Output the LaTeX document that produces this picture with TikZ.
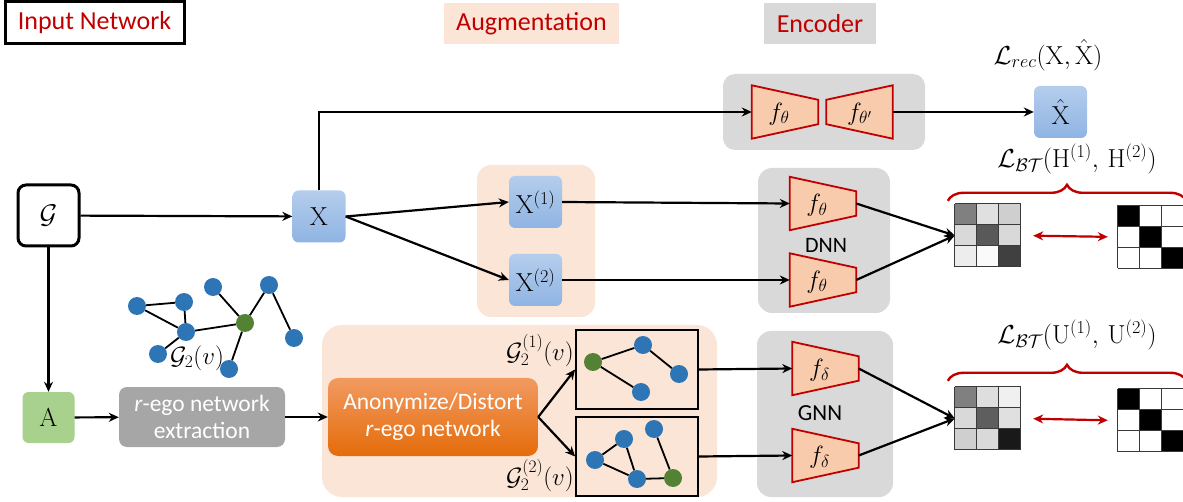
\RequirePackage{fix-cm}
\documentclass[tikz,border=0pt]{standalone}
\usepackage{fontspec}
\newfontfamily\calibri{Carlito}
\usetikzlibrary{arrows.meta,decorations.pathreplacing,calc}
\definecolor{myred}{HTML}{C00000}
\definecolor{peach}{HTML}{FBE5D6}
\definecolor{lgray}{HTML}{D9D9D9}
\definecolor{trapfill}{HTML}{F8CBAD}
\definecolor{nblue}{HTML}{2E75B6}
\definecolor{ngreen}{HTML}{548235}
\definecolor{boxgreen}{HTML}{A9D18E}
\definecolor{bluetop}{HTML}{B4CDEC}
\definecolor{bluebot}{HTML}{8FB4E3}
\definecolor{orgtop}{HTML}{F29A61}
\definecolor{orgbot}{HTML}{E46C0A}
\definecolor{egogray}{HTML}{A6A6A6}
\definecolor{gridc}{HTML}{3A3A3A}
\newcommand{\trapN}[4]{%
  \node[trapbox] (#1) at (#2,#3) {};
  \draw[trapL] (#1.north west) -- ([yshift=-14.5pt]#1.north east) -- ([yshift=14.5pt]#1.south east) -- (#1.south west) -- cycle;
  \node[mathf] (#1t) at ([xshift=-6pt,yshift=-2pt]#1.center) {#4};}
\newcommand{\trapW}[4]{%
  \node[trapbox] (#1) at (#2,#3) {};
  \draw[trapL] ([yshift=-14.5pt]#1.north west) -- (#1.north east) -- (#1.south east) -- ([yshift=14.5pt]#1.south west) -- cycle;
  \node[mathf] (#1t) at ([yshift=-2pt]#1.center) {#4};}
\newcommand{\cellgrid}[2]{%
  \foreach \r/\c/\v in {#2} {\fill[black!\v, shift={(#1.north west)}] (\c*22,\r*21) rectangle ++(22,21);}
  \foreach \k in {0,1,2,3} {
    \draw[gridc, line width=1.3pt, shift={(#1.north west)}] (\k*22,0) -- (\k*22,63);
    \draw[gridc, line width=1.3pt, shift={(#1.north west)}] (0,\k*21) -- (66,\k*21);}}
\begin{document}
\begin{tikzpicture}[x=1pt,y=-1pt,
  arr/.style={-{Stealth[length=10pt,width=9pt]}, line width=2.2pt},
  bluebox/.style={rounded corners=6pt, top color=bluetop, bottom color=bluebot, minimum width=53pt, minimum height=52pt, inner sep=0pt, font=\fontsize{26}{30}\selectfont},
  panel/.style={rounded corners=14pt, inner sep=0pt},
  trapbox/.style={inner sep=0pt, minimum width=66pt, minimum height=53pt},
  trapL/.style={fill=trapfill, draw=myred, line width=1.8pt},
  mathf/.style={font=\fontsize{25}{29}\selectfont, inner sep=0pt},
  lossf/.style={font=\fontsize{26}{30}\selectfont, inner sep=0pt},
  hdr/.style={font=\calibri\fontsize{26}{31}\selectfont, text=myred, inner sep=0pt, minimum height=41pt},
  gnode/.style={circle, minimum size=18pt, inner sep=0pt, fill=nblue},
  gnodeg/.style={circle, minimum size=18pt, inner sep=0pt, fill=ngreen},
  gedge/.style={line width=1.8pt},
  mat/.style={minimum width=66pt, minimum height=63pt, inner sep=0pt},
  dbl/.style={{Stealth[length=10pt,width=9pt]}-{Stealth[length=10pt,width=9pt]}, draw=myred, line width=2.2pt},
  bracestyle/.style={decorate, decoration={brace, amplitude=16pt}, draw=myred, line width=2.4pt},
  sanslab/.style={font=\calibri\fontsize{23.5}{27}\selectfont, align=center, text=white, inner sep=0pt}
]
\useasboundingbox (0,0) rectangle (1183,502);

% headers
\node[hdr, draw=black, line width=3pt, minimum width=179pt, minimum height=42pt] (hin) at (94.5,23) {Input Network};
\node[hdr, fill=peach, minimum width=175pt] (haug) at (531.5,23.5) {Augmentation};
\node[hdr, fill=lgray, minimum width=112pt] (henc) at (820,23.5) {Encoder};

% panels
\node[panel, fill=lgray, rounded corners=12pt, minimum width=202pt, minimum height=76pt] (encpanel) at (824,112) {};
\node[panel, fill=peach, minimum width=118pt, minimum height=152pt] (augup) at (536,241) {};
\node[panel, fill=lgray, minimum width=132pt, minimum height=145pt] (dnnpanel) at (824,240.5) {};
\node[panel, fill=lgray, minimum width=136pt, minimum height=166pt] (gnnpanel) at (825,414) {};
\node[panel, fill=peach, rounded corners=20pt, minimum width=395pt, minimum height=172pt] (auglow) at (519.5,411) {};

% main nodes
\node[draw=black, line width=3pt, rounded corners=8pt, minimum width=61pt, minimum height=61pt, inner sep=0pt, font=\fontsize{27}{31}\selectfont] (G) at (48.5,215.5) {$\mathcal{G}$};
\node[bluebox] (X) at (319,216.5) {$\mathrm{X}$};
\node[bluebox] (X1) at (535.5,202) {$\mathrm{X}^{(1)}$};
\node[bluebox] (X2) at (535.5,280) {$\mathrm{X}^{(2)}$};
\node[bluebox] (Xh) at (1060.5,112) {$\hat{\mathrm{X}}$};
\node[rounded corners=6pt, fill=boxgreen, minimum width=52pt, minimum height=51pt, inner sep=0pt, font=\fontsize{26}{30}\selectfont] (A) at (48.5,417.5) {$\mathrm{A}$};
\node[sanslab, fill=egogray, rounded corners=8pt, minimum width=166pt, minimum height=60pt] (ego) at (202,417) {\textit{r}-ego network\\extraction};
\node[sanslab, top color=orgtop, bottom color=orgbot, rounded corners=10pt, minimum width=210pt, minimum height=78pt] (anon) at (433,417) {Anonymize/Distort\\\textit{r}-ego network};

% trapezoids
\trapN{fenc}{785}{112}{$f_{\theta}$}
\trapW{fdec}{859.5}{112}{$f_{\theta'}$}
\trapN{ft1}{823}{203.5}{$f_{\theta}$}
\trapN{ft2}{823}{280}{$f_{\theta}$}
\trapN{fd1}{825.5}{368.5}{$f_{\delta}$}
\trapN{fd2}{825.5}{455.5}{$f_{\delta}$}
\node[font=\calibri\fontsize{22}{26}\selectfont, inner sep=0pt] (dnnlab) at (826,245) {DNN};
\node[font=\calibri\fontsize{23}{27}\selectfont, inner sep=0pt] (gnnlab) at (820,413) {GNN};

% ego graph boxes
\node[draw=black, line width=1.8pt, minimum width=122pt, minimum height=79pt, inner sep=0pt] (g1box) at (637,369.5) {};
\node[draw=black, line width=1.8pt, minimum width=122pt, minimum height=79pt, inner sep=0pt] (g2box) at (637,456.5) {};
\node[mathf, anchor=east] (g1lab) at (574,351) {$\mathcal{G}_2^{(1)}(v)$};
\node[mathf, anchor=east] (g2lab) at (574,476) {$\mathcal{G}_2^{(2)}(v)$};

% graph in g1box
\node[gnodeg] (a1) at (593,362) {};
\node[gnode] (a2) at (643,345) {};
\node[gnode] (a3) at (679,374) {};
\node[gnode] (a4) at (641,392) {};
\draw[gedge] (a1) -- (a2) (a2) -- (a3) (a1) -- (a4);
% graph in g2box
\node[gnode] (b1) at (595,460) {};
\node[gnode] (b2) at (624,439) {};
\node[gnode] (b3) at (654,429) {};
\node[gnode] (b4) at (637,479) {};
\node[gnodeg] (b5) at (673,478) {};
\draw[gedge] (b1) -- (b2) (b2) -- (b4) (b1) -- (b4) (b4) -- (b5) (b3) -- (b5);

% middle-left graph
\node[gnode] (n1) at (137,306) {};
\node[gnode] (n2) at (184,302) {};
\node[gnode] (n3) at (186,332) {};
\node[gnode] (n4) at (158,354) {};
\node[gnode] (n5) at (213,287) {};
\node[gnodeg] (ng) at (245,323) {};
\node[gnode] (n6) at (269,285) {};
\node[gnode] (n7) at (294,338) {};
\node[gnode] (n8) at (229,369) {};
\draw[gedge] (n1) -- (n2) (n1) -- (n3) (n2) -- (n3) (n3) -- (n4) (n3) -- (ng) (n5) -- (ng) (ng) -- (n6) (n6) -- (n7) (ng) -- (n8);
\node[mathf] (g2v) at (197,358) {$\mathcal{G}_2(v)$};

% matrices
\node[mat] (m1) at (988,235.5) {};
\cellgrid{m1}{0/0/50,0/1/12,0/2/19,1/0/15,1/1/65,1/2/15,2/0/7,2/1/2,2/2/75}
\node[mat] (m2) at (1151,237) {};
\cellgrid{m2}{0/0/100,0/1/0,0/2/0,1/0/0,1/1/100,1/2/0,2/0/0,2/1/0,2/2/100}
\node[mat] (m3) at (988,418.5) {};
\cellgrid{m3}{0/0/50,0/1/13,0/2/6,1/0/15,1/1/63,1/2/12,2/0/19,2/1/15,2/2/90}
\node[mat] (m4) at (1151,420.5) {};
\cellgrid{m4}{0/0/100,0/1/0,0/2/0,1/0/0,1/1/100,1/2/0,2/0/0,2/1/0,2/2/100}

\draw[dbl, shorten <=12pt, shorten >=10pt] (m1.east) -- (m2.west);
\draw[dbl, shorten <=12pt, shorten >=10pt] (m3.east) -- (m4.west);
\draw[bracestyle] ([xshift=-7pt,yshift=3pt]m1.north west) -- ([xshift=2pt,yshift=3pt]m1.north west -| m2.east);
\draw[bracestyle] ([xshift=-7pt,yshift=6pt]m3.north west) -- ([xshift=2pt,yshift=6pt]m3.north west -| m4.east);

% loss labels
\node[lossf] (lrec) at (1048,55) {$\mathcal{L}_{rec}(\mathrm{X},\hat{\mathrm{X}})$};
\node[lossf] (lbt1) at (1077,159) {$\mathcal{L}_{\mathcal{BT}}(\mathrm{H}^{(1)},\,\mathrm{H}^{(2)})$};
\node[lossf] (lbt2) at (1077,335) {$\mathcal{L}_{\mathcal{BT}}(\mathrm{U}^{(1)},\,\mathrm{U}^{(2)})$};

% connectors
\draw[arr] (G) -- (X);
\draw[arr] (X.north) |- (fenc.west);
\draw[arr] (fdec.east) -- (Xh.west);
\draw[arr] (X.east) -- (X1.west);
\draw[arr] (X.east) -- (X2.west);
\draw[arr] (X1.east) -- (ft1.west);
\draw[arr] (X2.east) -- (ft2.west);
\draw[arr] (ft1.east) -- (m1.west);
\draw[arr] (ft2.east) -- (m1.west);
\draw[arr] (G.south) -- (A.north);
\draw[arr] (A) -- (ego);
\draw[arr] (ego) -- (anon);
\draw[arr] (anon.east) -- (g1box.west);
\draw[arr] (anon.east) -- (g2box.west);
\draw[arr] (g1box.east) -- (fd1.west);
\draw[arr] (g2box.east) -- (fd2.west);
\draw[arr] (fd1.east) -- (m3.west);
\draw[arr] (fd2.east) -- (m3.west);
\end{tikzpicture}
\end{document}
